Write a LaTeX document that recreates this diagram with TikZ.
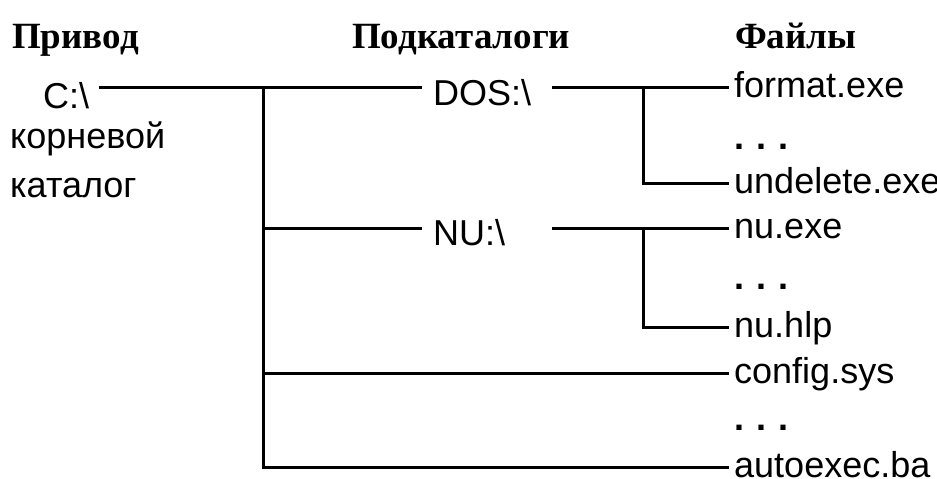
\documentclass[tikz,border=0pt]{standalone}
\usepackage{fontspec}
\setmainfont{Liberation Serif}
\newfontfamily\lsans{Liberation Sans}
\begin{document}
\begin{tikzpicture}[x=1pt,y=-1pt,
  hdr/.style={anchor=base west,inner sep=0pt,font=\fontsize{37}{40}\selectfont\bfseries},
  lbl/.style={anchor=base west,inner sep=0pt,font=\lsans\fontsize{36}{40}\selectfont},
  dotsl/.style={anchor=base west,inner sep=0pt,font=\lsans\bfseries\fontsize{36}{40}\selectfont},
  conn/.style={line width=3pt,line cap=butt,line join=miter}]
\clip (0,0) rectangle (937,479);
\fill[white] (0,0) rectangle (937,479);
% headers
\node[hdr] (h1) at (12,48) {Привод};
\node[hdr] (h2) at (352,48) {Подкаталоги};
\node[hdr] (h3) at (735,48) {Файлы};
% root
\node[lbl] (root) at (43,108) {C:\textbackslash};
\node[lbl] (korn) at (10,148) {корневой};
\node[lbl] (kat) at (10,197) {каталог};
% subdirectories
\node[lbl] (dos) at (433,105) {DOS:\textbackslash};
\node[lbl] (nu) at (433,245) {NU:\textbackslash};
% files
\node[lbl] (fmt) at (734,97) {format.exe};
\node[dotsl] (dt1) at (734,149) {.\hspace{12pt}.\hspace{12pt}.};
\node[lbl] (und) at (734,193) {undelete.exe};
\node[lbl] (nux) at (734,238) {nu.exe};
\node[dotsl] (dt2) at (734,289) {.\hspace{12pt}.\hspace{12pt}.};
\node[lbl] (nuh) at (734,337) {nu.hlp};
\node[lbl] (cfg) at (734,383) {config.sys};
\node[dotsl] (dt3) at (734,430) {.\hspace{12pt}.\hspace{12pt}.};
\node[lbl] (aut) at (734,477) {autoexec.ba};
% junction coordinates
\coordinate (j0) at (263,87);
\coordinate (j1) at (263,228);
\coordinate (j2) at (263,373);
\coordinate (j3) at (263,467);
\coordinate (d0) at (643,87);
\coordinate (d1) at (643,183);
\coordinate (n0) at (643,228);
\coordinate (n1) at (643,327);
\coordinate (ds) at (552,87);
\coordinate (ns) at (552,228);
% connectors
\draw[conn] ([xshift=10pt]root.east |- j0) -- ([xshift=-11pt]dos.west |- j0);
\draw[conn] (j0) -- (j3) -- ([xshift=-5pt]aut.west |- j3);
\draw[conn] (j1) -- ([xshift=-11pt]nu.west |- j1);
\draw[conn] (j2) -- ([xshift=-5pt]cfg.west |- j2);
\draw[conn] (ds) -- ([xshift=-5pt]fmt.west |- d0);
\draw[conn] (d0) -- (d1) -- ([xshift=-5pt]und.west |- d1);
\draw[conn] (ns) -- ([xshift=-5pt]nux.west |- n0);
\draw[conn] (n0) -- (n1) -- ([xshift=-5pt]nuh.west |- n1);
\end{tikzpicture}
\end{document}
